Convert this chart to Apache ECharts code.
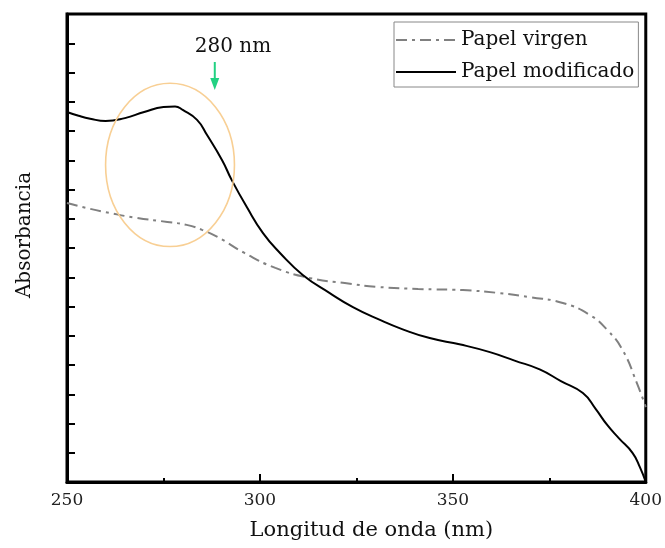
<!DOCTYPE html>
<html>
<head>
<meta charset="utf-8">
<script src="https://cdn.jsdelivr.net/npm/echarts@6/dist/echarts.min.js"></script>
<style>
html,body{margin:0;padding:0;background:#fff;}
#chart{width:665px;height:548px;}
</style>
</head>
<body>
<div id="chart"></div>
<script>
// Data (x: wavelength nm, y: absorbance in tick units, unlabelled)
const wlVirgen  = [250, 255, 261, 268, 276, 281, 285, 289, 296, 304, 313, 322, 330.5, 341, 352.6, 362, 370, 378.5, 385.5, 390, 394, 397.7, 400];
const absVirgen = [9.54, 9.37, 9.2, 9.03, 8.89, 8.79, 8.62, 8.38, 7.83, 7.32, 6.97, 6.80, 6.67, 6.6, 6.56, 6.46, 6.32, 6.12, 5.71, 5.2, 4.51, 3.38, 2.56];
const wlMod  = [250, 253, 256, 260, 265, 270, 275, 278, 280, 283.7, 286.3, 290.2, 292.7, 296.6, 300.8, 305.2, 311.1, 318.1, 324.1, 331.1, 337, 344, 352, 359.6, 366, 372.5, 378, 383.7, 387, 390, 393, 396.6, 398.5, 400];
const absMod = [12.65, 12.52, 12.42, 12.34, 12.44, 12.65, 12.82, 12.84, 12.72, 12.38, 11.86, 11.0, 10.32, 9.40, 8.51, 7.83, 7.08, 6.46, 5.98, 5.54, 5.22, 4.92, 4.70, 4.44, 4.15, 3.85, 3.45, 3.04, 2.5, 1.95, 1.5, 0.99, 0.5, 0.0];
const xTicks = [250, 300, 350, 400];
const seriesNames = ['Papel virgen', 'Papel modificado'];
// Annotation anchors (data coordinates)
const ellipseCenter = [276.7, 10.84];
const ellipseRadiusNm = 16.7;
const ellipseRadiusAbs = 2.79;
const arrowX = 288.3, arrowTop = 14.36, arrowTip = 13.4;
const noteText = '280 nm', notePos = [293, 14.87];

const FONT = 'DejaVu Serif';
const zip = (a, b) => a.map((v, i) => [v, b[i]]);

const chart = echarts.init(document.getElementById('chart'), null, {renderer: 'canvas'});
chart.setOption({
  animation: false,
  backgroundColor: '#fff',
  grid: {left: 67, right: 19, top: 14, bottom: 66, show: true, borderColor: '#000', borderWidth: 3, containLabel: false},
  legend: {
    orient: 'vertical', left: 394, top: 22,
    data: seriesNames,
    itemWidth: 60, itemHeight: 20, itemGap: 12,
    padding: [8, 4, 5, 1],
    borderColor: '#888', borderWidth: 1,
    itemStyle: {opacity: 0},
    textStyle: {fontFamily: FONT, fontSize: 20, color: '#111'}
  },
  xAxis: {
    type: 'value', min: 250, max: 400, interval: 50,
    axisLine: {lineStyle: {color: '#000', width: 3}},
    axisTick: {inside: true, length: 8, lineStyle: {color: '#000', width: 2}},
    minorTick: {show: true, splitNumber: 2, length: 4, lineStyle: {color: '#000', width: 2}},
    splitLine: {show: false},
    axisLabel: {margin: 10, fontFamily: FONT, fontSize: 17, color: '#222',
      formatter: v => xTicks.includes(v) ? String(v) : ''},
    name: 'Longitud de onda (nm)', nameLocation: 'middle', nameGap: 38,
    nameTextStyle: {fontFamily: FONT, fontSize: 21, color: '#111', padding: [0, 0, 0, 30]}
  },
  yAxis: {
    type: 'value', min: 0, max: 16, interval: 1,
    axisLine: {lineStyle: {color: '#000', width: 3}},
    axisTick: {inside: true, length: 8, lineStyle: {color: '#000', width: 2}},
    axisLabel: {show: false},
    splitLine: {show: false},
    name: 'Absorbancia', nameLocation: 'middle', nameGap: 32,
    nameTextStyle: {fontFamily: FONT, fontSize: 20, color: '#111', padding: [0, 0, 0, 26]}
  },
  series: [
    {
      name: seriesNames[0], type: 'line', data: zip(wlVirgen, absVirgen),
      smooth: 0.5, symbol: 'none',
      lineStyle: {color: '#808080', width: 2, type: [11, 5, 3, 5]},
      itemStyle: {color: '#808080'}
    },
    {
      name: seriesNames[1], type: 'line', data: zip(wlMod, absMod),
      smooth: 0.5, symbol: 'none',
      lineStyle: {color: '#000', width: 2},
      itemStyle: {color: '#000'}
    }
  ]
});

function drawAnnotations() {
  const c = chart.convertToPixel({gridIndex: 0}, ellipseCenter);
  const e1 = chart.convertToPixel({gridIndex: 0}, [ellipseCenter[0] + ellipseRadiusNm, ellipseCenter[1] + ellipseRadiusAbs]);
  const a0 = chart.convertToPixel({gridIndex: 0}, [arrowX, arrowTop]);
  const a1 = chart.convertToPixel({gridIndex: 0}, [arrowX, arrowTip]);
  const t = chart.convertToPixel({gridIndex: 0}, notePos);
  const headLen = 12, headW = 4.5;
  chart.setOption({
    graphic: [
      {type: 'ellipse', shape: {cx: c[0], cy: c[1], rx: Math.abs(e1[0] - c[0]), ry: Math.abs(c[1] - e1[1])},
        style: {fill: 'none', stroke: '#f8cf94', lineWidth: 1.6}, z: 10},
      {type: 'line', shape: {x1: a0[0], y1: a0[1], x2: a1[0], y2: a1[1] - headLen + 1},
        style: {stroke: '#22d182', lineWidth: 2}, z: 10},
      {type: 'polygon', shape: {points: [[a1[0] - headW, a1[1] - headLen], [a1[0] + headW, a1[1] - headLen], [a1[0], a1[1]]]},
        style: {fill: '#22d182'}, z: 10},
      {type: 'text', x: t[0], y: t[1],
        style: {text: noteText, font: '20px "' + FONT + '"', fill: '#111', align: 'center', verticalAlign: 'middle'}, z: 10}
    ]
  });
}
drawAnnotations();
</script>
</body>
</html>
